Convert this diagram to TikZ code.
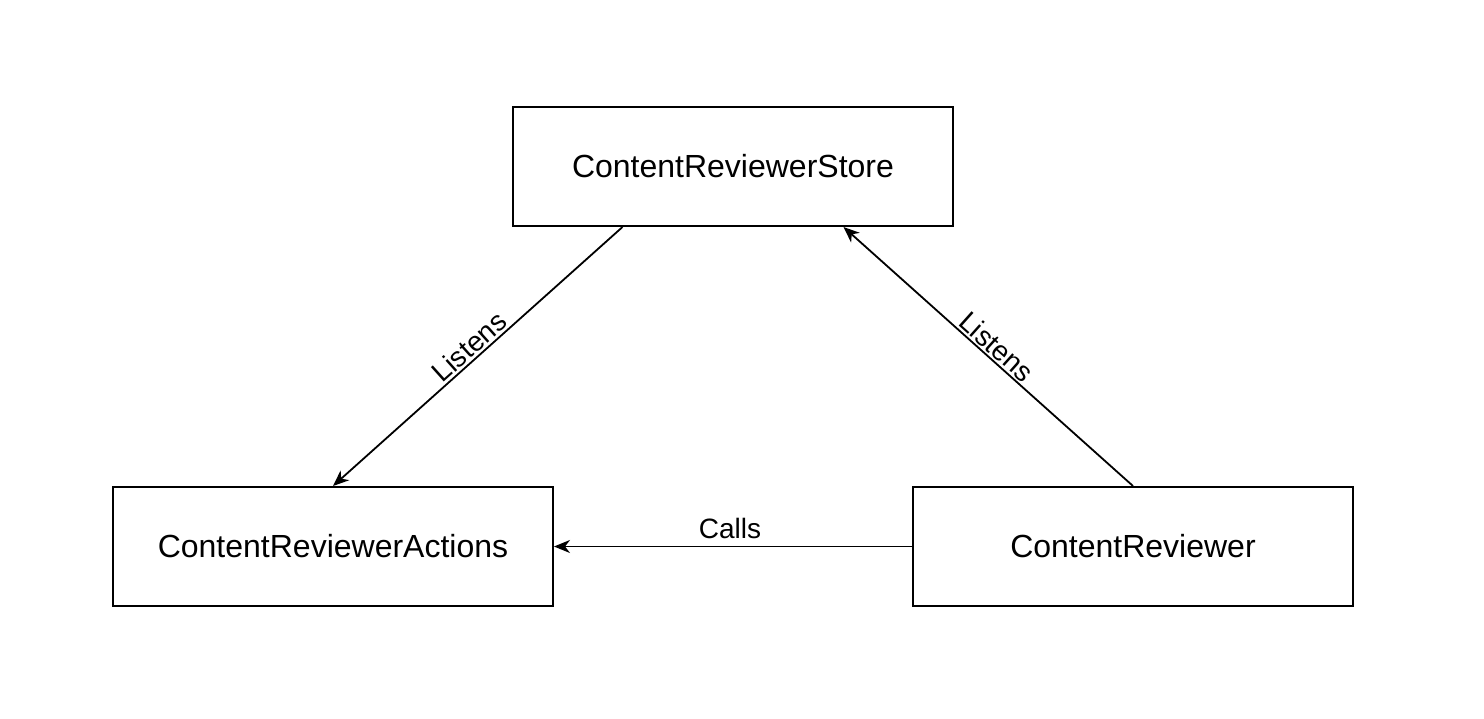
\documentclass[tikz,border=0pt]{standalone}
\usepackage{fontspec}
\setmainfont{Liberation Sans}
\usetikzlibrary{arrows.meta,calc}
\begin{document}
\begin{tikzpicture}[x=1pt,y=-1pt,
  box/.style={draw,line width=2pt,minimum width=440pt,minimum height=119pt,inner sep=0pt,font=\fontsize{32}{38}\selectfont},
  conn/.style={line width=1.8pt,-{Stealth[length=16pt,width=13pt,inset=5pt]}},
  lbl/.style={font=\fontsize{28}{33}\selectfont,inner sep=2pt}]
\useasboundingbox (0,0) rectangle (1484,718);
\node[box] (store) at (733,166.5) {ContentReviewerStore};
\node[box] (actions) at (333,546.5) {ContentReviewerActions};
\node[box] (reviewer) at (1133,546.5) {ContentReviewer};
\coordinate (sl) at ($(store.south west)!0.25!(store.south east)$);
\coordinate (sr) at ($(store.south west)!0.75!(store.south east)$);
\draw[conn] (sl) -- node[lbl,sloped,above] (l1) {Listens} (actions.north);
\draw[conn] (reviewer.north) -- node[lbl,sloped,above] (l2) {Listens} (sr);
\draw[conn] (reviewer.west) -- node[lbl,above,yshift=5pt,xshift=-3pt] (l3) {Calls} (actions.east);
\end{tikzpicture}
\end{document}
